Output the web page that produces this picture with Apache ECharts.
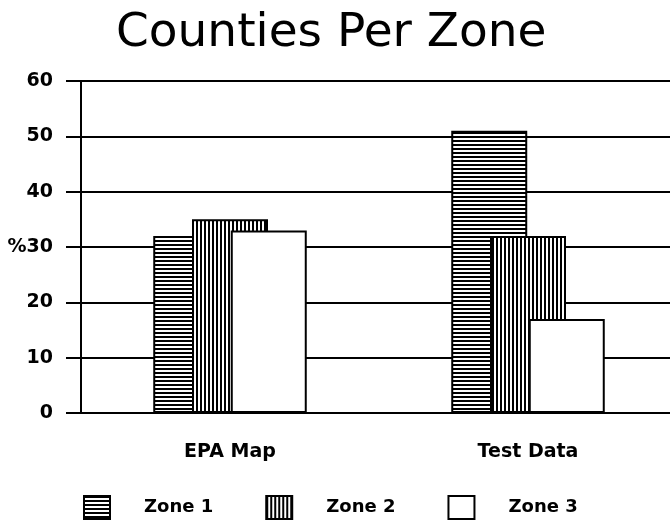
<!DOCTYPE html>
<html>
<head>
<meta charset="utf-8">
<script src="https://cdn.jsdelivr.net/npm/echarts@6/dist/echarts.min.js"></script>
<style>html,body{margin:0;padding:0;background:#fff;overflow:hidden;width:670px;height:522px}#c{width:680px;height:522px}</style>
</head>
<body>
<div id="c"></div>
<script>
const categories = ['EPA Map', 'Test Data'];
const zone1 = [32, 51];
const zone2 = [35, 32];
const zone3 = [33, 17];
const seriesNames = ['Zone 1', 'Zone 2', 'Zone 3'];

function makePattern(kind) {
  const c = document.createElement('canvas');
  c.width = 4; c.height = 4;
  const g = c.getContext('2d');
  g.fillStyle = '#fff';
  g.fillRect(0, 0, 4, 4);
  g.fillStyle = '#000';
  if (kind === 'h') g.fillRect(0, 0, 4, 2);
  else if (kind === 'v') g.fillRect(0, 0, 2, 4);
  return c;
}

const chart = echarts.init(document.getElementById('c'), null, {renderer: 'canvas'});
const font = '"DejaVu Sans", Verdana, sans-serif';
const border = {borderColor: '#000', borderWidth: 2};

chart.setOption({
  animation: false,
  backgroundColor: '#fff',
  title: {
    text: 'Counties Per Zone',
    left: 111,
    top: 5,
    textStyle: {fontFamily: font, fontSize: 47, fontWeight: 'normal', color: '#000'}
  },
  legend: {
    left: 83,
    top: 495,
    padding: 0,
    icon: 'rect',
    itemWidth: 26,
    itemHeight: 23,
    itemGap: 52,
    textStyle: {fontFamily: font, fontSize: 18, fontWeight: 'bold', color: '#000', padding: [0, 0, 0, 29]},
    data: seriesNames
  },
  grid: {left: 81, width: 596, top: 81, bottom: 109},
  xAxis: {
    type: 'category',
    data: categories,
    axisLine: {lineStyle: {color: '#000', width: 2}},
    axisTick: {alignWithLabel: true, length: 6, lineStyle: {color: '#000', width: 2}},
    axisLabel: {fontFamily: font, fontSize: 19, fontWeight: 'bold', color: '#000', margin: 30}
  },
  yAxis: {
    type: 'value',
    min: 0, max: 60, interval: 10,
    axisLine: {show: true, lineStyle: {color: '#000', width: 2}},
    axisTick: {show: true, length: 15, lineStyle: {color: '#000', width: 2}},
    axisLabel: {
      fontFamily: font, fontSize: 19, fontWeight: 'bold', color: '#000', margin: 28,
      formatter: v => v === 30 ? '%30' : String(v)
    },
    splitLine: {lineStyle: {color: '#000', width: 2}}
  },
  series: [
    {name: seriesNames[0], type: 'bar', data: zone1, barWidth: 76, barGap: '-49%',
     itemStyle: Object.assign({color: {image: makePattern('h'), repeat: 'repeat'}}, border)},
    {name: seriesNames[1], type: 'bar', data: zone2, barWidth: 76, barGap: '-49%',
     itemStyle: Object.assign({color: {image: makePattern('v'), repeat: 'repeat'}}, border)},
    {name: seriesNames[2], type: 'bar', data: zone3, barWidth: 76, barGap: '-49%',
     itemStyle: Object.assign({color: '#fff'}, border)}
  ]
});
</script>
</body>
</html>
